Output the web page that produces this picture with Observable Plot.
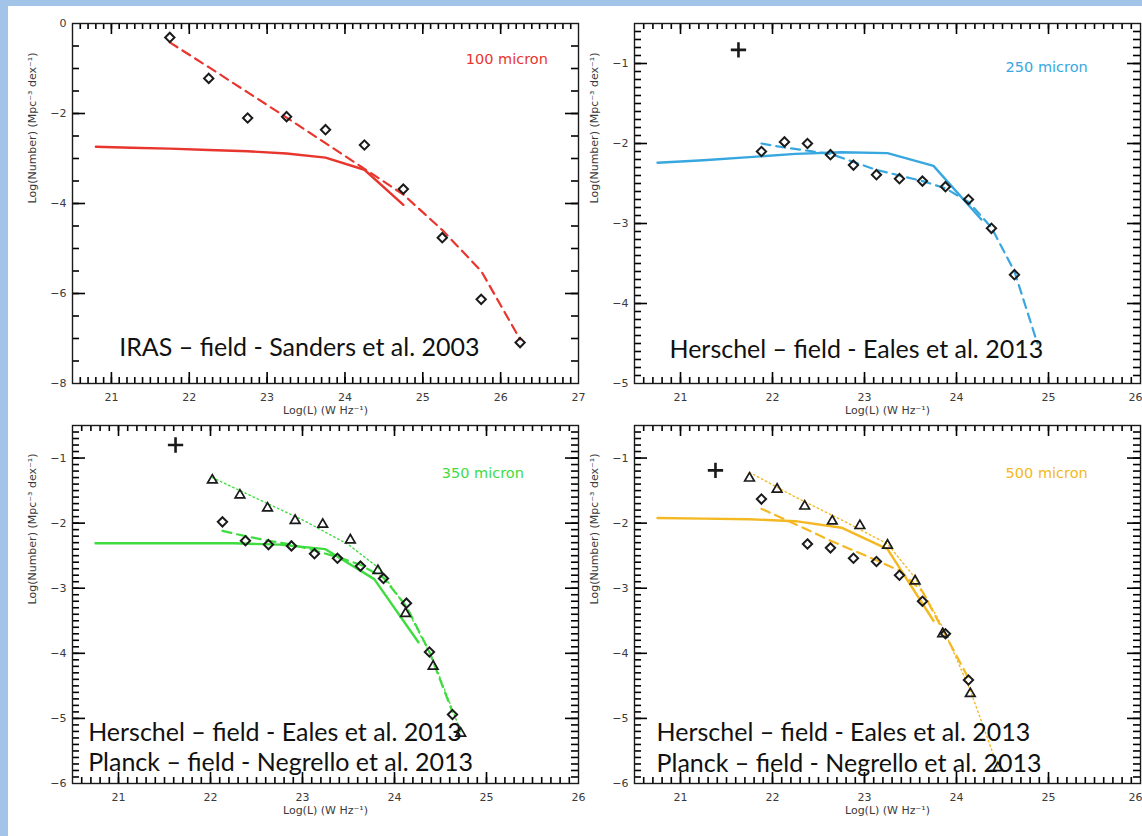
<!DOCTYPE html>
<html>
<head>
<meta charset="utf-8">
<script src="https://cdn.jsdelivr.net/npm/d3@7"></script>
<script src="https://cdn.jsdelivr.net/npm/@observablehq/plot@0.6"></script>
<style>
  body { margin: 0; background: #fff; }
  #page { position: relative; width: 1142px; height: 836px; overflow: hidden; background: #fff; }
  .band { position: absolute; background: #a3c4e9; }
  .panel { position: absolute; }
  .panel svg { overflow: visible; }
</style>
</head>
<body>
<div id="page">
  <div class="band" style="left:0;top:0;width:1142px;height:6px"></div>
  <div class="band" style="left:0;top:0;width:8px;height:836px"></div>
  <div class="panel" id="p1" style="left:8px;top:5px"></div>
  <div class="panel" id="p2" style="left:588px;top:5px"></div>
  <div class="panel" id="p3" style="left:8px;top:420px"></div>
  <div class="panel" id="p4" style="left:588px;top:420px"></div>
</div>
<script>
// ---------- axis text ----------
const xTitle = "Log(L) (W Hz\u207B\u00B9)";
const yTitle = "Log(Number) (Mpc\u207B\u00B3 dex\u207B\u00B9)";

// ---------- 100 micron (IRAS, Sanders et al. 2003) ----------
const irasX      = [21.75, 22.25, 22.75, 23.25, 23.75, 24.25, 24.75, 25.25, 25.75, 26.25];
const irasY      = [-0.31, -1.22, -2.10, -2.07, -2.36, -2.70, -3.68, -4.76, -6.13, -7.09];
const irasFitX   = [21.75, 22.25, 22.75, 23.25, 23.75, 24.25, 24.75, 25.25, 25.75, 26.25];
const irasFitY   = [-0.42, -0.97, -1.53, -2.09, -2.66, -3.23, -3.80, -4.59, -5.50, -7.02];
const model100X  = [20.80, 21.25, 21.75, 22.25, 22.75, 23.25, 23.75, 24.25, 24.75];
const model100Y  = [-2.74, -2.76, -2.78, -2.81, -2.84, -2.89, -2.98, -3.25, -4.03];

// ---------- 250 micron (Herschel, Eales et al. 2013) ----------
const h250X      = [21.88, 22.13, 22.38, 22.63, 22.88, 23.13, 23.38, 23.63, 23.88, 24.13, 24.38, 24.63];
const h250Y      = [-2.10, -1.98, -2.00, -2.14, -2.27, -2.39, -2.44, -2.47, -2.54, -2.70, -3.06, -3.64];
const h250FitX   = [21.88, 22.13, 22.38, 22.63, 22.88, 23.13, 23.38, 23.63, 23.88, 24.13, 24.38, 24.63, 24.88];
const h250FitY   = [-2.00, -2.05, -2.09, -2.13, -2.23, -2.33, -2.40, -2.47, -2.56, -2.73, -3.05, -3.60, -4.50];
const model250X  = [20.75, 21.25, 21.75, 22.25, 22.75, 23.25, 23.75, 24.27];
const model250Y  = [-2.24, -2.21, -2.17, -2.13, -2.11, -2.12, -2.28, -2.95];
const cross250   = [21.63, -0.83];

// ---------- 350 micron (Herschel + Planck) ----------
const h350X      = [22.13, 22.38, 22.63, 22.88, 23.13, 23.38, 23.63, 23.88, 24.13, 24.38, 24.63];
const h350Y      = [-1.98, -2.27, -2.33, -2.35, -2.47, -2.54, -2.66, -2.85, -3.23, -3.98, -4.94];
const h350FitX   = [22.13, 22.38, 22.63, 22.88, 23.13, 23.38, 23.63, 23.88, 24.13, 24.38, 24.63];
const h350FitY   = [-2.12, -2.20, -2.27, -2.33, -2.42, -2.52, -2.64, -2.84, -3.28, -3.98, -4.90];
const p350X      = [22.02, 22.32, 22.62, 22.92, 23.22, 23.52, 23.82, 24.12, 24.42, 24.72];
const p350Y      = [-1.34, -1.57, -1.77, -1.96, -2.02, -2.26, -2.73, -3.39, -4.20, -5.23];
const p350FitX   = [22.02, 22.50, 23.00, 23.50, 23.82, 24.12, 24.42, 24.72];
const p350FitY   = [-1.30, -1.62, -1.95, -2.33, -2.68, -3.28, -4.10, -5.20];
const model350X  = [20.75, 21.25, 21.75, 22.25, 22.75, 23.25, 23.78, 24.26];
const model350Y  = [-2.31, -2.31, -2.31, -2.31, -2.33, -2.40, -2.86, -3.83];
const cross350   = [21.62, -0.80];

// ---------- 500 micron (Herschel + Planck) ----------
const h500X      = [21.88, 22.38, 22.63, 22.88, 23.13, 23.38, 23.63, 23.88, 24.13];
const h500Y      = [-1.63, -2.32, -2.38, -2.54, -2.59, -2.80, -3.20, -3.70, -4.41];
const h500FitX   = [21.88, 22.38, 22.63, 22.88, 23.13, 23.38, 23.63, 23.88, 24.13];
const h500FitY   = [-1.78, -2.10, -2.27, -2.42, -2.57, -2.73, -3.05, -3.72, -4.38];
const p500X      = [21.75, 22.05, 22.35, 22.65, 22.95, 23.25, 23.55, 23.85, 24.15, 24.45];
const p500Y      = [-1.31, -1.48, -1.74, -1.97, -2.04, -2.34, -2.89, -3.70, -4.62, -5.76];
const p500FitX   = [21.75, 22.25, 22.75, 23.25, 23.55, 23.85, 24.15, 24.45];
const p500FitY   = [-1.22, -1.60, -1.95, -2.32, -2.84, -3.60, -4.57, -5.75];
const model500X  = [20.75, 21.25, 21.75, 22.25, 22.75, 23.25, 23.75];
const model500Y  = [-1.92, -1.93, -1.94, -1.97, -2.07, -2.40, -3.50];
const cross500   = [21.38, -1.19];

// ---------- tick labels ----------
const xTicks27 = [21, 22, 23, 24, 25, 26, 27];
const xTicks26 = [21, 22, 23, 24, 25, 26];
const yTicks100 = [-8, -6, -4, -2, 0];
const yTicks250 = [-5, -4, -3, -2, -1];
const yTicksLow = [-6, -5, -4, -3, -2, -1];

const ink = "#1a1a1a";
const red = "#e8352d", blue = "#38a7df", green = "#3fdc3f", gold = "#f3b822";
const tickFont = "DejaVu Sans";
const noteFont = "Lato";

const pts = (xs, ys) => xs.map((x, i) => ({x, y: ys[i]}));
const steps = (a, b, s) => d3.range(Math.ceil(a / s - 1e-6), Math.floor(b / s + 1e-6) + 1).map(k => +(k * s).toFixed(4));

function drawPanel(id, cfg) {
  const {width, height, mL, mR, mT, mB, xDomain, yDomain, xMajor, yMajor, yMinorStep, lastLabelEnd, marks} = cfg;
  const W = width - mL - mR, H = height - mT - mB;
  const [x0, x1] = xDomain, [y0, y1] = yDomain;
  // data units per pixel, used to give the inward tick marks a fixed pixel length
  const kx = (x1 - x0) / W, ky = (y1 - y0) / H;
  const inside = (v, lo, hi) => v > lo + 1e-6 && v < hi - 1e-6;
  const xMinor = steps(x0, x1, 0.1).filter(v => inside(v, x0, x1));
  const yMinor = steps(y0, y1, yMinorStep).filter(v => inside(v, y0, y1));
  const xMaj = xMajor.filter(v => inside(v, x0, x1));
  const yMaj = yMajor.filter(v => inside(v, y0, y1));
  const tk = {stroke: "#000", strokeWidth: 1.6};
  const xTicks = (vals, len) => [
    Plot.ruleX(vals, {x: d => d, y1: y0, y2: y0 + len * ky, ...tk}),
    Plot.ruleX(vals, {x: d => d, y1: y1, y2: y1 - len * ky, ...tk})
  ];
  const yTicks = (vals, len) => [
    Plot.ruleY(vals, {y: d => d, x1: x0, x2: x0 + len * kx, ...tk}),
    Plot.ruleY(vals, {y: d => d, x1: x1, x2: x1 - len * kx, ...tk})
  ];
  // the right-most x label sits on the page edge, so it is anchored by its end
  const xLabels = lastLabelEnd ? xMajor.slice(0, -1) : xMajor;
  const xLabelAxis = {tickSize: 0, tickPadding: 10, label: null, tickFormat: d => String(d), fontSize: 11};
  const chart = Plot.plot({
    width, height,
    marginLeft: mL, marginRight: mR, marginTop: mT, marginBottom: mB,
    x: {domain: xDomain},
    y: {domain: yDomain},
    style: {fontFamily: tickFont, fontSize: "11px", color: "#3a3a3a", background: "transparent"},
    marks: [
      ...xTicks(xMinor, 6), ...xTicks(xMaj, 11),
      ...yTicks(yMinor, 7), ...yTicks(yMaj, 13),
      Plot.frame({stroke: ink, strokeWidth: 1.4}),
      Plot.axisX(xLabels, xLabelAxis),
      lastLabelEnd ? Plot.axisX(xMajor.slice(-1), {...xLabelAxis, textAnchor: "end", dx: 2}) : null,
      Plot.axisY(yMajor, {tickSize: 0, tickPadding: 6, label: null, tickFormat: d => (d < 0 ? "\u2212" : "") + Math.abs(d), fontSize: 11}),
      Plot.text([xTitle], {text: d => d, frameAnchor: "bottom", dy: 30, fontSize: 11}),
      Plot.text([yTitle], {text: d => d, frameAnchor: "left", dx: -40, rotate: -90, fontSize: 11}),
      ...marks
    ]
  });
  document.getElementById(id).appendChild(chart);
}

const solid = (xs, ys, c) => Plot.line(pts(xs, ys), {x: "x", y: "y", stroke: c, strokeWidth: 2.4, clip: true});
const dashed = (xs, ys, c) => Plot.line(pts(xs, ys), {x: "x", y: "y", stroke: c, strokeWidth: 2.2, strokeDasharray: "9,6", clip: true});
const dotted = (xs, ys, c) => Plot.line(pts(xs, ys), {x: "x", y: "y", stroke: c, strokeWidth: 1.4, strokeDasharray: "1.5,3", clip: true});
const diamonds = (xs, ys) => Plot.dot(pts(xs, ys), {x: "x", y: "y", symbol: "diamond2", r: 4.2, stroke: ink, strokeWidth: 2, fill: "none"});
const triangles = (xs, ys) => Plot.dot(pts(xs, ys), {x: "x", y: "y", symbol: "triangle2", r: 4.6, stroke: ink, strokeWidth: 1.7, fill: "none"});
const cross = (p) => Plot.dot([{x: p[0], y: p[1]}], {x: "x", y: "y", symbol: "plus", r: 5, stroke: ink, strokeWidth: 2.6, fill: "none"});
const band = (label, x, y, c) => Plot.text([{x, y, label}], {x: "x", y: "y", text: "label", fill: c, fontSize: 14.5, fontFamily: tickFont});
const note = (label, x, y) => Plot.text([{x, y, label}], {x: "x", y: "y", text: "label", textAnchor: "start", fill: "#111", fontSize: 25, fontFamily: noteFont});

drawPanel("p1", {
  width: 580, height: 415, mL: 64, mR: 10, mT: 18, mB: 37,
  xDomain: [20.5, 27], yDomain: [-8, 0], xMajor: xTicks27, yMajor: yTicks100, yMinorStep: 0.5,
  marks: [
    solid(model100X, model100Y, red),
    dashed(irasFitX, irasFitY, red),
    diamonds(irasX, irasY),
    band("100 micron", 26.08, -0.80, red),
    note("IRAS \u2013 field - Sanders et al. 2003", 21.10, -7.22)
  ]
});

drawPanel("p2", {
  width: 554, height: 415, mL: 46, mR: 2, mT: 18, mB: 37,
  xDomain: [20.5, 26], yDomain: [-5, -0.5], xMajor: xTicks26, yMajor: yTicks250, yMinorStep: 0.1, lastLabelEnd: true,
  marks: [
    solid(model250X, model250Y, blue),
    dashed(h250FitX, h250FitY, blue),
    diamonds(h250X, h250Y),
    cross(cross250),
    band("250 micron", 24.98, -1.05, blue),
    note("Herschel \u2013 field - Eales et al. 2013", 20.88, -4.58)
  ]
});

drawPanel("p3", {
  width: 580, height: 416, mL: 64, mR: 10, mT: 5, mB: 53,
  xDomain: [20.5, 26], yDomain: [-6, -0.5], xMajor: xTicks26, yMajor: yTicksLow, yMinorStep: 0.1,
  marks: [
    solid(model350X, model350Y, green),
    dashed(h350FitX, h350FitY, green),
    dotted(p350FitX, p350FitY, green),
    diamonds(h350X, h350Y),
    triangles(p350X, p350Y),
    cross(cross350),
    band("350 micron", 24.96, -1.24, green),
    note("Herschel \u2013 field - Eales et al. 2013", 20.67, -5.22),
    note("Planck \u2013 field - Negrello et al. 2013", 20.67, -5.69)
  ]
});

drawPanel("p4", {
  width: 554, height: 416, mL: 46, mR: 2, mT: 5, mB: 53,
  xDomain: [20.5, 26], yDomain: [-6, -0.5], xMajor: xTicks26, yMajor: yTicksLow, yMinorStep: 0.1, lastLabelEnd: true,
  marks: [
    solid(model500X, model500Y, gold),
    dashed(h500FitX, h500FitY, gold),
    dotted(p500FitX, p500FitY, gold),
    diamonds(h500X, h500Y),
    triangles(p500X, p500Y),
    cross(cross500),
    band("500 micron", 24.98, -1.24, gold),
    note("Herschel \u2013 field - Eales et al. 2013", 20.74, -5.23),
    note("Planck \u2013 field - Negrello et al. 2013", 20.74, -5.70)
  ]
});
</script>
</body>
</html>
